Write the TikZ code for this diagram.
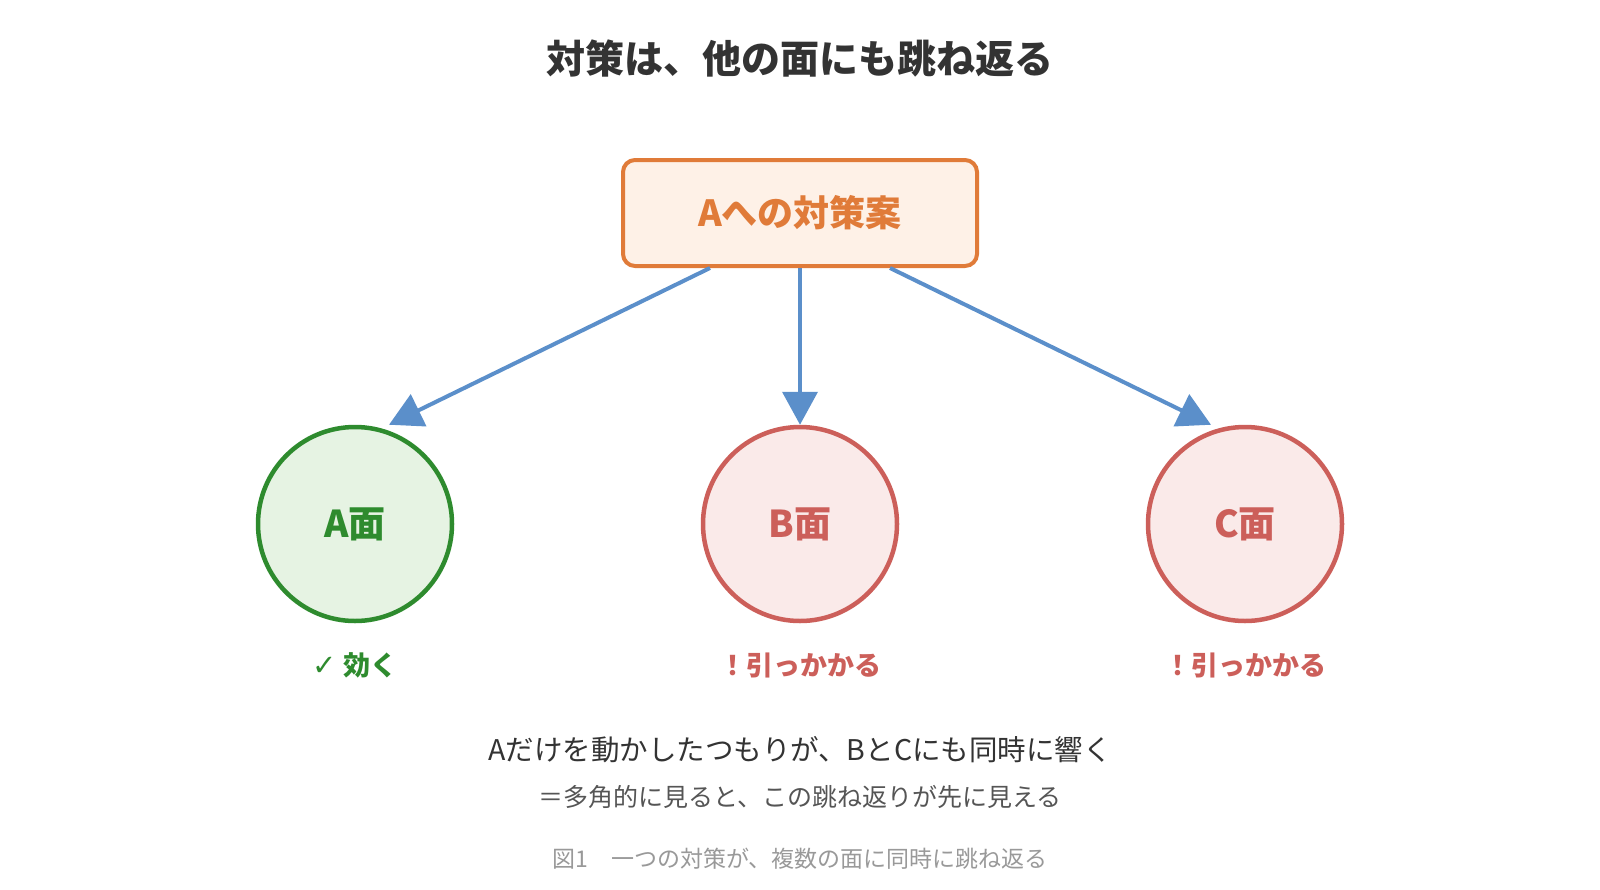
\documentclass[tikz,border=0pt]{standalone}
\usepackage{fontspec}
\setmainfont{Noto Sans CJK JP}
\newfontfamily\symfont{DejaVu Sans}
\usetikzlibrary{arrows.meta, positioning}
\definecolor{planorange}{HTML}{E07B39}
\definecolor{planfill}{HTML}{FEF1E7}
\definecolor{okgreen}{HTML}{2E8B2E}
\definecolor{okfill}{HTML}{E6F3E3}
\definecolor{ngred}{HTML}{CC5F5A}
\definecolor{ngfill}{HTML}{FAEAE9}
\definecolor{arrowblue}{HTML}{5B8FCA}
\definecolor{textdark}{HTML}{333333}
\definecolor{textmid}{HTML}{555555}
\definecolor{textlight}{HTML}{999999}

\begin{document}
\begin{tikzpicture}[
    x=1pt, y=-1pt,
    face/.style={circle,line width=4.5pt,minimum size=194pt,inner sep=0pt,
                 font=\fontsize{37}{44}\selectfont\bfseries},
    arr/.style={-{Triangle[length=33pt,width=35pt]},line width=4pt,arrowblue},
    note/.style={font=\fontsize{27}{32}\selectfont\bfseries}
]
  \useasboundingbox (0,0) rectangle (1600,889);

  % Title
  \node[font=\fontsize{39}{46}\selectfont\bfseries,text=textdark] (title) at (800,59) {対策は、他の面にも跳ね返る};

  % The countermeasure
  \node[draw=planorange,fill=planfill,line width=4pt,rounded corners=12pt,
        minimum width=354pt,minimum height=106pt,text=planorange,
        font=\fontsize{36}{42}\selectfont\bfseries] (plan) at (800,213) {Aへの対策案};

  % Three faces
  \node[face,draw=okgreen,fill=okfill,text=okgreen] (faceA) at (355,524) {A面};
  \node[face,draw=ngred,fill=ngfill,text=ngred] (faceB) at (800,524) {B面};
  \node[face,draw=ngred,fill=ngfill,text=ngred] (faceC) at (1245,524) {C面};

  % Arrows from the plan to each face
  \draw[arr] ([xshift=-90pt]plan.south) -- ([xshift=34pt]faceA.north);
  \draw[arr] (plan.south) -- (faceB.north);
  \draw[arr] ([xshift=90pt]plan.south) -- ([xshift=-34pt]faceC.north);

  % Effects
  \node[note,text=okgreen] (effA) at (355,665) {{\symfont\mdseries\fontsize{29}{32}\selectfont ✓} 効く};
  \node[note,text=ngred] (effB) at (800,665) {！引っかかる};
  \node[note,text=ngred] (effC) at (1245,665) {！引っかかる};

  % Summary and caption
  \node[font=\fontsize{28.5}{34}\selectfont,text=textdark] (sum) at (800,750) {Aだけを動かしたつもりが、BとCにも同時に響く};
  \node[font=\fontsize{25}{30}\selectfont,text=textmid] (sub) at (800,797) {＝多角的に見ると、この跳ね返りが先に見える};
  \node[font=\fontsize{23}{28}\selectfont,text=textlight] (caption) at (800,859) {図1　一つの対策が、複数の面に同時に跳ね返る};

\end{tikzpicture}
\end{document}
